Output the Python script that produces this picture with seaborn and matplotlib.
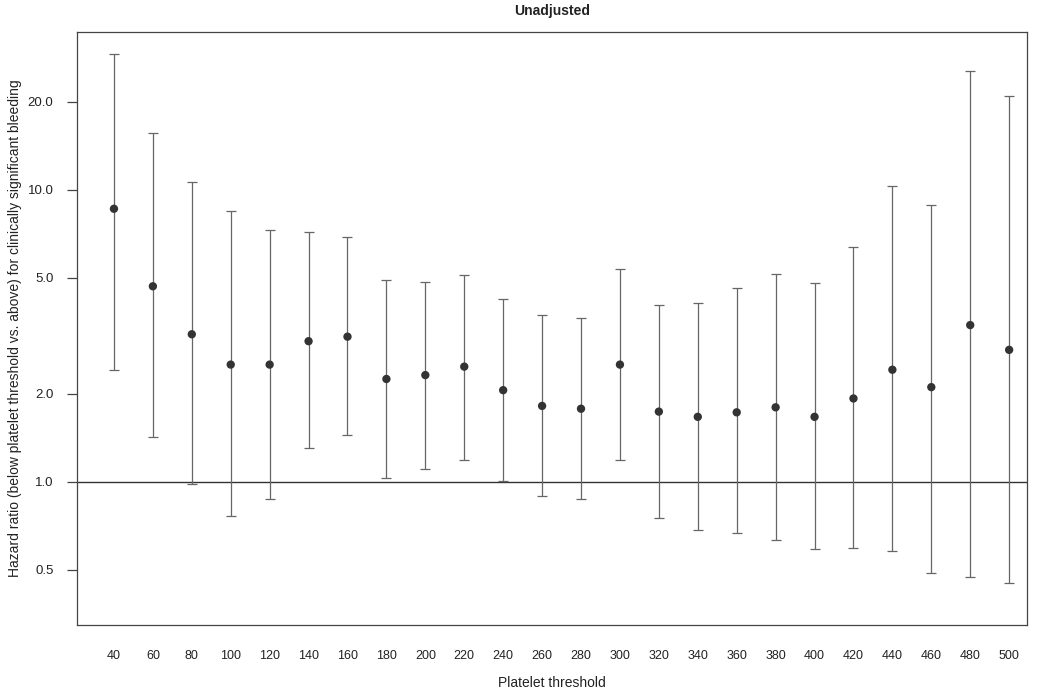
import matplotlib

matplotlib.use("Agg")
import matplotlib.pyplot as plt
import pandas as pd
import seaborn as sns

# Platelet thresholds and hazard ratios
umbrales = [40, 60, 80, 100, 120, 140, 160, 180, 200, 220, 240, 260,
            280, 300, 320, 340, 360, 380, 400, 420, 440, 460, 480, 500]
hr = [8.6, 4.67, 3.20, 2.52, 2.52, 3.03, 3.14, 2.25, 2.32, 2.48, 2.06, 1.82,
      1.78, 2.52, 1.74, 1.67, 1.73, 1.80, 1.67, 1.93, 2.42, 2.11, 3.44, 2.83]
ic_inf = [2.42, 1.43, 0.98, 0.765, 0.875, 1.31, 1.45, 1.03, 1.11, 1.19, 1.01, 0.893,
          0.873, 1.19, 0.751, 0.687, 0.667, 0.633, 0.588, 0.593, 0.582, 0.487, 0.473, 0.45]
ic_sup = [29.1, 15.6, 10.6, 8.45, 7.26, 7.15, 6.9, 4.91, 4.84, 5.11, 4.22, 3.72,
          3.65, 5.34, 4.04, 4.10, 4.6, 5.15, 4.8, 6.38, 10.27, 8.86, 25.5, 20.9]
ticks_y = [0.5, 1.0, 2.0, 5.0, 10.0, 20.0]

df = pd.DataFrame({"umbral": umbrales, "hr": hr, "inf": ic_inf, "sup": ic_sup})

sns.set_theme(style="ticks")
plt.rcParams["font.family"] = ["Liberation Sans", "DejaVu Sans"]

fig = plt.figure(figsize=(10.39, 6.93), dpi=100)
ax = fig.add_axes([0.0741, 0.0981, 0.9144, 0.8557])
ax.set_yscale("log")

ax.errorbar(
    df["umbral"],
    df["hr"],
    yerr=[df["hr"] - df["inf"], df["sup"] - df["hr"]],
    fmt="none",
    ecolor="#666666",
    elinewidth=0.9,
    capsize=3.5,
    capthick=0.9,
    zorder=2,
)
sns.scatterplot(
    data=df,
    x="umbral",
    y="hr",
    color="#333333",
    s=36,
    edgecolor="none",
    ax=ax,
    zorder=3,
)
ax.axhline(1.0, color="#333333", linewidth=1.0, zorder=1)

ax.set_xlim(21, 509.2)
ax.set_ylim(0.324, 34.6)
ax.set_xticks(umbrales)
ax.set_xticklabels([str(u) for u in umbrales])
ax.tick_params(axis="x", length=0, pad=18, labelsize=9, colors="#222222")
ax.set_yticks(ticks_y)
ax.set_yticklabels([f"{t:.1f}" for t in ticks_y])
ax.minorticks_off()
ax.tick_params(axis="y", which="major", direction="out", left=True, length=7,
               width=0.9, pad=10, labelsize=9.5, color="#444444",
               labelcolor="#222222")

for lado in ax.spines.values():
    lado.set_color("#444444")
    lado.set_linewidth(0.9)

ax.set_xlabel("Platelet threshold", fontsize=10, color="#222222", labelpad=10)
ax.set_ylabel("Hazard ratio (below platelet threshold vs. above) for clinically significant bleeding",
              fontsize=10, color="#222222", labelpad=12)
ax.yaxis.set_label_coords(-0.058, 0.5)
ax.set_title("Unadjusted", fontsize=10, fontweight="bold", color="#222222", pad=12)

fig.savefig("out.png", dpi=100)
